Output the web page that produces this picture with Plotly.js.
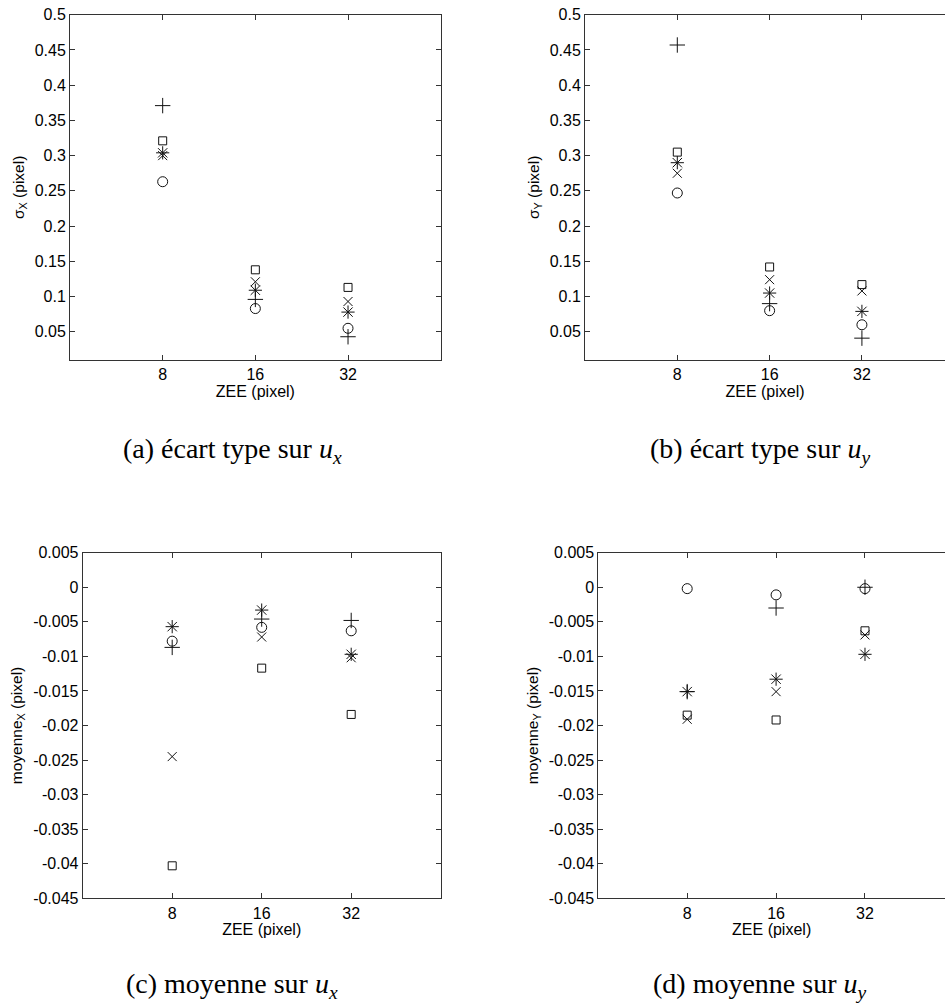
<!DOCTYPE html>
<html>
<head>
<meta charset="utf-8">
<script src="https://cdn.plot.ly/plotly-3.0.1.min.js"></script>
<style>html,body{margin:0;padding:0;background:#fff;}#chart{width:945px;height:1006px;}</style>
</head>
<body>
<div id="chart"></div>
<script>
// ---- data ----
var zee = ['8', '16', '32'];

// (a) standard deviation on u_x
var sxPlus     = [0.371, 0.096, 0.043];
var sxSquare   = [0.321, 0.138, 0.113];
var sxAsterisk = [0.304, 0.109, 0.078];
var sxCross    = [0.300, 0.121, 0.093];
var sxCircle   = [0.263, 0.083, 0.055];

// (b) standard deviation on u_y
var syPlus     = [0.457, 0.090, 0.041];
var sySquare   = [0.305, 0.142, 0.117];
var syAsterisk = [0.290, 0.105, 0.079];
var syCross    = [0.275, 0.124, 0.108];
var syCircle   = [0.247, 0.080, 0.060];

// (c) mean on u_x
var mxPlus     = [-0.0087, -0.0046, -0.0048];
var mxSquare   = [-0.0403, -0.0117, -0.0184];
var mxAsterisk = [-0.0057, -0.0033, -0.0097];
var mxCross    = [-0.0245, -0.0072, -0.0102];
var mxCircle   = [-0.0078, -0.0058, -0.0063];

// (d) mean on u_y
var myPlus     = [-0.0151, -0.0030, 0.0000];
var mySquare   = [-0.0185, -0.0192, -0.0063];
var myAsterisk = [-0.0151, -0.0133, -0.0097];
var myCross    = [-0.0191, -0.0151, -0.0069];
var myCircle   = [-0.0002, -0.0011, -0.0002];

// tick labels
var sigmaTicks = [0.05, 0.1, 0.15, 0.2, 0.25, 0.3, 0.35, 0.4, 0.45, 0.5];
var sigmaTickText = ['0.05', '0.1', '0.15', '0.2', '0.25', '0.3', '0.35', '0.4', '0.45', '0.5'];
var meanTicks = [0.005, 0, -0.005, -0.01, -0.015, -0.02, -0.025, -0.03, -0.035, -0.04, -0.045];
var meanTickText = ['0.005', '0', '-0.005', '-0.01', '-0.015', '-0.02', '-0.025', '-0.03', '-0.035', '-0.04', '-0.045'];

var captions = [
  '(a) écart type sur <i>u</i><sub><i>x</i></sub>',
  '(b) écart type sur <i>u</i><sub><i>y</i></sub>',
  '(c) moyenne sur <i>u</i><sub><i>x</i></sub>',
  '(d) moyenne sur <i>u</i><sub><i>y</i></sub>'
];

// ---- styling ----
var W = 945, H = 1006;
var ink = '#111';
var markerDefs = [
  {sym: 'cross-thin-open', size: 11},
  {sym: 'square-open', size: 8},
  {sym: 'asterisk-open', size: 11},
  {sym: 'x-thin-open', size: 9},
  {sym: 'circle-open', size: 10}
];

function series(vals, xa, ya) {
  var out = [];
  for (var i = 0; i < vals.length; i++) {
    out.push({
      type: 'scatter', mode: 'markers', x: zee, y: vals[i],
      xaxis: xa, yaxis: ya, showlegend: false, hoverinfo: 'x+y',
      marker: {symbol: markerDefs[i].sym, size: markerDefs[i].size, color: ink,
               line: {width: 1, color: ink}}
    });
  }
  return out;
}

var data = []
  .concat(series([sxPlus, sxSquare, sxAsterisk, sxCross, sxCircle], 'x', 'y'))
  .concat(series([syPlus, sySquare, syAsterisk, syCross, syCircle], 'x2', 'y2'))
  .concat(series([mxPlus, mxSquare, mxAsterisk, mxCross, mxCircle], 'x3', 'y3'))
  .concat(series([myPlus, mySquare, myAsterisk, myCross, myCircle], 'x4', 'y4'));

var tickFont = {family: 'Liberation Sans, Arial, sans-serif', size: 16, color: '#000'};
var titleFont = {family: 'Liberation Sans, Arial, sans-serif', size: 16, color: '#000'};
var yTitleFont = {family: 'Liberation Sans, Arial, sans-serif', size: 15.5, color: '#000'};

function xAxis(px0, px1, rmax, anchor) {
  return {
    type: 'category', domain: [px0 / W, Math.min(1, px1 / W)], anchor: anchor,
    range: [-1, rmax], tickvals: zee, ticktext: zee,
    ticks: 'inside', ticklen: 5, tickcolor: '#333', tickwidth: 1,
    showline: true, linecolor: '#333', linewidth: 1, mirror: 'ticks',
    showgrid: false, zeroline: false, tickfont: tickFont,
    title: {text: 'ZEE (pixel)', font: titleFont, standoff: 0}
  };
}
function yAxis(pyTop, pyBottom, rng, tv, tt, title, anchor, mirror) {
  return {
    domain: [1 - pyBottom / H, 1 - pyTop / H], anchor: anchor,
    range: rng, tickvals: tv, ticktext: tt,
    ticks: 'inside', ticklen: 5, tickcolor: '#333', tickwidth: 1,
    showline: true, linecolor: '#333', linewidth: 1, mirror: mirror,
    showgrid: false, zeroline: false, tickfont: tickFont,
    title: {text: title, font: yTitleFont, standoff: 6}
  };
}

var layout = {
  width: W, height: H,
  margin: {l: 0, r: 0, t: 0, b: 0},
  paper_bgcolor: '#fff', plot_bgcolor: '#fff',
  showlegend: false,
  xaxis:  xAxis(70, 440.7, 3, 'y'),
  yaxis:  yAxis(14.7, 360, [0.01, 0.5], sigmaTicks, sigmaTickText, 'σ<sub>X</sub> (pixel)', 'x', 'ticks'),
  xaxis2: xAxis(585, 945, 2.9, 'y2'),
  yaxis2: yAxis(14.7, 360, [0.01, 0.5], sigmaTicks, sigmaTickText, 'σ<sub>Y</sub> (pixel)', 'x2', false),
  xaxis3: xAxis(82.7, 440.7, 3, 'y3'),
  yaxis3: yAxis(552.7, 898.3, [-0.045, 0.005], meanTicks, meanTickText, 'moyenne<sub>X</sub> (pixel)', 'x3', 'ticks'),
  xaxis4: xAxis(598.3, 945, 2.9, 'y4'),
  yaxis4: yAxis(552.7, 898.3, [-0.045, 0.005], meanTicks, meanTickText, 'moyenne<sub>Y</sub> (pixel)', 'x4', false),
  annotations: [
    {text: captions[0], x: 232 / W, y: 1 - 450 / H},
    {text: captions[1], x: 760 / W, y: 1 - 450 / H},
    {text: captions[2], x: 232 / W, y: 1 - 985 / H},
    {text: captions[3], x: 760 / W, y: 1 - 985 / H}
  ].map(function (a) {
    a.xref = 'paper'; a.yref = 'paper'; a.showarrow = false;
    a.xanchor = 'center'; a.yanchor = 'middle';
    a.font = {family: 'Liberation Serif, Times New Roman, serif', size: 28, color: '#000'};
    return a;
  })
};

Plotly.newPlot('chart', data, layout, {staticPlot: true, displayModeBar: false});
</script>
</body>
</html>
